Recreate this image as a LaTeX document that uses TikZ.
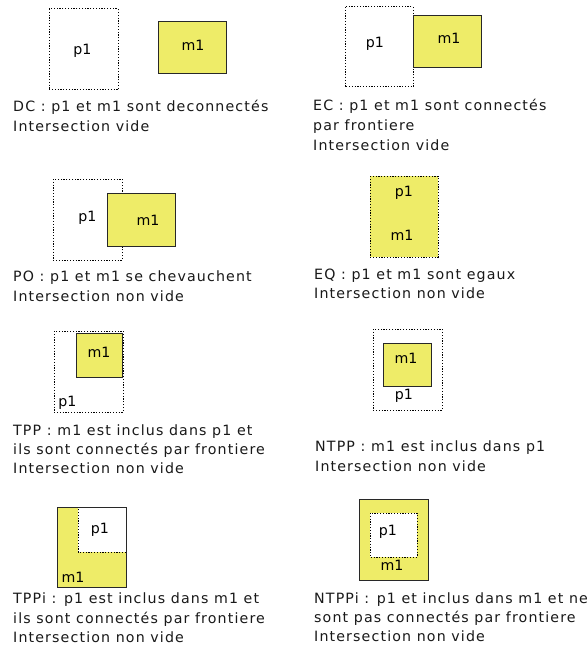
\documentclass[tikz,border=0pt]{standalone}
\usepackage{fontspec}
\setmainfont{DejaVu Sans}
\newfontfamily\capfont{DejaVu Sans}[LetterSpace=8]
\definecolor{ryellow}{RGB}{238,236,104}
\definecolor{mborder}{RGB}{40,40,40}
\tikzset{
  pbox/.style={draw=black, dash pattern=on 1.2pt off 1.6pt, line width=1pt},
  mbox/.style={draw=mborder, line width=0.9pt},
  lbl/.style={font=\fontsize{14.2}{16}\selectfont, anchor=base, inner sep=0pt},
  captxt/.style={font=\capfont\fontsize{14.2}{20}\selectfont, anchor=base west, inner sep=0pt, text=black!90}
}
\begin{document}
\begin{tikzpicture}[x=1pt,y=-1pt]
\useasboundingbox[fill=white] (0,0) rectangle (588,647);
% ---------- DC
\draw[pbox] (49,9) rectangle (118,90);
\draw[mbox, fill=ryellow] (158,21) rectangle (226,73);
\node[lbl] (dcp) at (82.5,55) {p1};
\node[lbl] (dcm) at (193,51) {m1};
\node[captxt] (dc1) at (13,112) {DC : p1 et m1 sont deconnectés};
\node[captxt] (dc2) at (13,132) {Intersection vide};
% ---------- EC
\draw[pbox] (345,7) rectangle (413,87);
\draw[mbox, fill=ryellow] (413,15) rectangle (481,67);
\node[lbl] (ecp) at (375,48) {p1};
\node[lbl] (ecm) at (449,44) {m1};
\node[captxt] (ec1) at (313,111) {EC : p1 et m1 sont connectés};
\node[captxt] (ec2) at (313,131) {par frontiere};
\node[captxt] (ec3) at (313,151) {Intersection vide};
% ---------- PO
\draw[pbox] (53,179) rectangle (122,260);
\draw[mbox, fill=ryellow] (107,193) rectangle (175,246);
\node[lbl] (pop) at (87.5,221) {p1};
\node[lbl] (pom) at (148,225) {m1};
\node[captxt] (po1) at (13,281) {PO : p1 et m1 se chevauchent};
\node[captxt] (po2) at (13,301) {Intersection non vide};
% ---------- EQ
\draw[pbox, fill=ryellow] (370,176) rectangle (438,257);
\node[lbl] (eqp) at (404,196) {p1};
\node[lbl] (eqm) at (402,240) {m1};
\node[captxt] (eq1) at (314,279) {EQ : p1 et m1 sont egaux};
\node[captxt] (eq2) at (314,298) {Intersection non vide};
% ---------- TPP
\draw[pbox] (54,331) rectangle (123,412);
\draw[mbox, fill=ryellow] (76,333) rectangle (122,377);
\node[lbl] (tppm) at (99,357) {m1};
\node[lbl] (tppp) at (67.5,406) {p1};
\node[captxt] (tpp1) at (13,435) {TPP : m1 est inclus dans p1 et};
\node[captxt] (tpp2) at (13,454) {ils sont connectés par frontiere};
\node[captxt] (tpp3) at (13,473) {Intersection non vide};
% ---------- NTPP
\draw[pbox] (373,329) rectangle (442,410);
\draw[mbox, fill=ryellow] (383,343) rectangle (431,386);
\node[lbl] (ntppm) at (406,363) {m1};
\node[lbl] (ntppp) at (404,399) {p1};
\node[captxt] (ntpp1) at (315,451) {NTPP : m1 est inclus dans p1};
\node[captxt] (ntpp2) at (315,471) {Intersection non vide};
% ---------- TPPi
\fill[ryellow] (57,507) rectangle (126,587);
\fill[white] (78,507) rectangle (126,552);
\draw[pbox] (126,552) -- (78,552) -- (78,507);
\draw[mbox] (57,507) rectangle (126,587);
\node[lbl] (tppip) at (100,533) {p1};
\node[lbl] (tppim) at (73,582) {m1};
\node[captxt] (tppi1) at (13,603) {TPPi : p1 est inclus dans m1 et};
\node[captxt] (tppi2) at (13,623) {ils sont connectés par frontiere};
\node[captxt] (tppi3) at (13,642) {Intersection non vide};
% ---------- NTPPi
\draw[mbox, fill=ryellow] (359,499) rectangle (428,580);
\draw[pbox, fill=white] (370,513) rectangle (417,557);
\node[lbl] (ntppip) at (388,535) {p1};
\node[lbl] (ntppim) at (392,570) {m1};
\node[captxt] (ntppi1) at (314,603) {NTPPi : p1 et inclus dans m1 et ne};
\node[captxt] (ntppi2) at (314,622) {sont pas connectés par frontiere};
\node[captxt] (ntppi3) at (314,641) {Intersection non vide};
\end{tikzpicture}
\end{document}
